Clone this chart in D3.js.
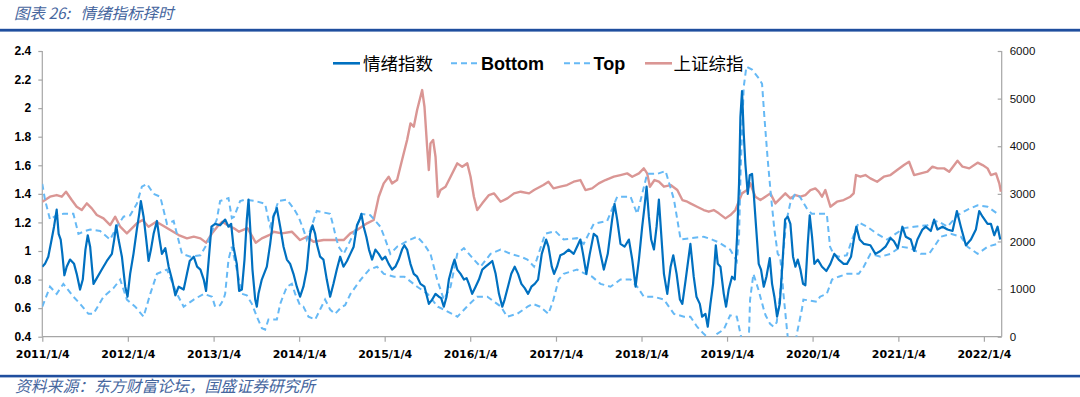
<!DOCTYPE html>
<html><head><meta charset="utf-8">
<script src="https://cdn.jsdelivr.net/npm/d3@7"></script>
<style>
html,body{margin:0;padding:0;background:#fff;}
svg{display:block;}
</style>
</head><body>
<svg id="chart" width="1080" height="397"></svg>
<script>
// ---- data (time as fractional year counted from each year's Jan 4) ----
const yearTicks = [2011,2012,2013,2014,2015,2016,2017,2018,2019,2020,2021,2022];
const leftTicks = [0.4,0.6,0.8,1.0,1.2,1.4,1.6,1.8,2.0,2.2,2.4];
const rightTicks = [0,1000,2000,3000,4000,5000,6000];
const seriesNames = ["情绪指数","Bottom","Top","上证综指"];

const sentiment = [[2011.000,0.89],[2011.031,0.91],[2011.070,0.96],[2011.109,1.08],[2011.137,1.17],[2011.168,1.29],[2011.191,1.12],[2011.215,1.08],[2011.234,0.98],[2011.258,0.83],[2011.285,0.89],[2011.324,0.94],[2011.371,0.91],[2011.402,0.84],[2011.441,0.73],[2011.473,0.80],[2011.504,1.01],[2011.531,1.11],[2011.559,1.03],[2011.598,0.77],[2011.637,0.81],[2011.695,0.87],[2011.754,0.93],[2011.813,0.98],[2011.840,1.08],[2011.863,1.18],[2011.891,1.08],[2011.930,0.96],[2011.969,0.75],[2011.996,0.68],[2012.027,0.84],[2012.066,0.98],[2012.105,1.15],[2012.133,1.26],[2012.152,1.35],[2012.184,1.24],[2012.215,1.08],[2012.242,0.93],[2012.270,1.01],[2012.301,1.12],[2012.340,1.21],[2012.371,1.08],[2012.398,0.98],[2012.438,1.02],[2012.477,0.89],[2012.516,0.80],[2012.555,0.69],[2012.594,0.75],[2012.652,0.73],[2012.691,0.84],[2012.723,0.93],[2012.770,0.96],[2012.809,0.89],[2012.848,0.87],[2012.887,0.80],[2012.914,0.72],[2012.945,0.94],[2012.977,1.17],
[2013.018,1.19],[2013.076,1.18],[2013.135,1.22],[2013.174,1.17],[2013.205,1.19],[2013.232,1.03],[2013.271,0.91],[2013.298,0.72],[2013.330,0.73],[2013.361,0.94],[2013.388,1.22],[2013.408,1.36],[2013.427,1.17],[2013.454,0.87],[2013.486,0.66],[2013.505,0.61],[2013.524,0.70],[2013.563,0.80],[2013.622,0.89],[2013.661,1.05],[2013.700,1.24],[2013.739,1.30],[2013.778,1.17],[2013.817,1.03],[2013.856,0.94],[2013.894,0.91],[2013.933,0.84],[2013.972,0.75],[2014.011,0.68],[2014.050,0.75],[2014.089,0.87],[2014.128,1.12],[2014.156,1.18],[2014.187,1.12],[2014.206,1.05],[2014.245,0.96],[2014.284,0.94],[2014.323,0.80],[2014.362,0.68],[2014.401,0.77],[2014.440,0.87],[2014.479,0.96],[2014.518,0.89],
[2014.559,0.93],[2014.598,0.98],[2014.637,1.03],[2014.676,1.18],[2014.707,1.22],[2014.727,1.26],[2014.754,1.17],[2014.785,1.10],[2014.816,1.01],[2014.852,0.94],[2014.891,1.01],[2014.930,0.98],[2014.969,0.94],[2015.008,0.96],[2015.047,0.91],[2015.086,0.87],[2015.125,0.89],[2015.164,0.94],[2015.203,1.01],[2015.230,1.04],[2015.262,1.01],[2015.301,0.91],[2015.340,0.84],[2015.379,0.82],[2015.418,0.77],[2015.465,0.75],[2015.516,0.63],[2015.555,0.66],[2015.594,0.70],[2015.633,0.68],[2015.660,0.67],[2015.691,0.61],[2015.723,0.68],[2015.750,0.80],[2015.789,0.89],[2015.816,0.94],[2015.848,0.87],[2015.887,0.84],[2015.926,0.80],[2015.957,0.81],[2015.984,0.77],[2016.023,0.70],[2016.063,0.75],[2016.102,0.80],[2016.141,0.87],[2016.180,0.89],[2016.219,0.91],[2016.258,0.93],[2016.297,0.84],[2016.336,0.70],[2016.375,0.61],[2016.402,0.66],[2016.441,0.75],[2016.480,0.84],[2016.520,0.89],[2016.559,0.84],[2016.598,0.77],[2016.637,0.74],[2016.676,0.70],[2016.715,0.75],[2016.754,0.77],[2016.793,0.80],
[2016.836,0.98],[2016.887,1.08],[2016.914,1.03],[2016.953,0.89],[2016.980,0.84],[2017.012,0.89],[2017.051,0.97],[2017.090,0.98],[2017.148,1.01],[2017.207,0.98],[2017.246,1.03],[2017.285,1.08],[2017.316,0.98],[2017.355,0.84],[2017.395,0.98],[2017.441,1.12],[2017.480,1.10],[2017.520,0.98],[2017.559,0.87],[2017.605,0.98],[2017.656,1.22],[2017.684,1.33],[2017.715,1.22],[2017.754,1.05],[2017.801,1.03],[2017.852,1.08],[2017.891,0.94],[2017.930,0.75],[2017.969,0.94],[2018.008,1.17],[2018.035,1.31],[2018.059,1.45],[2018.086,1.24],[2018.113,1.08],[2018.145,1.01],[2018.176,1.17],[2018.203,1.36],[2018.230,1.12],[2018.262,0.84],[2018.301,0.70],[2018.340,0.89],[2018.371,0.97],[2018.410,0.84],[2018.449,0.66],[2018.477,0.63],[2018.516,0.80],
[2018.571,1.05],[2018.610,0.82],[2018.642,0.68],[2018.681,0.63],[2018.708,0.54],[2018.747,0.56],[2018.774,0.47],[2018.805,0.63],[2018.836,0.77],[2018.868,1.04],[2018.891,0.91],[2018.922,0.89],[2018.961,0.70],[2018.988,0.61],[2019.019,0.73],[2019.058,0.82],[2019.090,0.80],[2019.117,1.10],[2019.140,1.47],[2019.156,1.94],[2019.175,2.12],[2019.195,1.82],[2019.214,1.61],[2019.242,1.40],[2019.265,1.53],[2019.292,1.54],[2019.312,1.40],[2019.339,1.17],[2019.370,0.91],[2019.397,0.87],[2019.429,0.75],[2019.460,0.82],[2019.499,0.95],[2019.526,0.77],[2019.553,0.68],[2019.584,0.54],[2019.616,0.63],[2019.647,0.91],[2019.678,1.22],[2019.709,1.24],[2019.740,1.19],[2019.771,0.96],[2019.799,0.89],[2019.826,0.94],[2019.857,0.87],[2019.888,0.77],[2019.915,0.76],[2019.943,1.05],[2019.966,1.25],[2019.993,1.10],[2020.021,0.91],[2020.060,0.94],[2020.110,0.89],[2020.161,0.86],[2020.208,0.91],[2020.254,0.98],[2020.305,0.94],[2020.363,0.91],[2020.402,0.91],[2020.449,0.96],[2020.488,1.10],[2020.511,1.17],[2020.550,1.08],[2020.597,1.05],[2020.675,1.04],
[2020.734,0.98],[2020.793,1.00],[2020.852,1.03],[2020.910,1.09],[2020.949,1.07],[2020.996,1.02],[2021.047,1.17],[2021.086,1.10],[2021.145,1.08],[2021.184,1.00],[2021.223,1.08],[2021.281,1.15],[2021.320,1.17],[2021.379,1.14],[2021.418,1.22],[2021.457,1.15],[2021.516,1.17],[2021.574,1.15],[2021.633,1.14],[2021.684,1.28],[2021.730,1.17],[2021.789,1.04],[2021.848,1.08],[2021.906,1.15],[2021.945,1.28],[2021.984,1.24],[2022.043,1.19],[2022.082,1.19],[2022.121,1.11],[2022.160,1.17],[2022.191,1.08]];

const bottomBand = [[2011.000,0.61],[2011.090,0.75],[2011.168,0.70],[2011.246,0.77],[2011.363,0.68],[2011.441,0.63],[2011.539,0.56],[2011.598,0.56],[2011.715,0.68],[2011.832,0.74],[2011.910,0.80],[2011.988,0.66],[2012.086,0.61],[2012.184,0.54],[2012.262,0.70],[2012.340,0.84],[2012.457,0.87],[2012.574,0.70],[2012.652,0.61],[2012.770,0.66],[2012.887,0.70],[2012.984,0.68],
[2013.018,0.61],[2013.076,0.62],[2013.115,0.66],[2013.135,0.70],[2013.174,0.94],[2013.213,1.03],[2013.271,0.87],[2013.330,0.70],[2013.388,0.69],[2013.447,0.63],[2013.505,0.54],[2013.564,0.46],[2013.602,0.45],[2013.641,0.52],[2013.739,0.52],[2013.778,0.63],[2013.856,0.75],[2013.914,0.77],[2013.953,0.70],[2014.011,0.62],[2014.050,0.61],[2014.109,0.54],[2014.187,0.52],[2014.245,0.59],[2014.303,0.66],[2014.362,0.59],[2014.420,0.56],[2014.498,0.61],[2014.537,0.62],
[2014.600,0.70],[2014.720,0.80],[2014.820,0.87],[2014.910,0.89],[2014.990,0.84],[2015.110,0.82],[2015.230,0.82],[2015.380,0.75],[2015.500,0.70],[2015.620,0.61],[2015.690,0.59],[2015.850,0.54],[2015.960,0.61],[2016.080,0.68],[2016.200,0.68],[2016.360,0.61],[2016.430,0.54],[2016.550,0.56],[2016.670,0.61],
[2016.730,0.63],[2016.816,0.61],[2016.914,0.56],[2016.973,0.66],[2017.031,0.80],[2017.090,0.84],[2017.246,0.87],[2017.344,0.84],[2017.422,0.82],[2017.520,0.77],[2017.637,0.75],[2017.754,0.80],[2017.871,0.80],[2017.949,0.75],[2018.027,0.68],[2018.145,0.68],[2018.262,0.66],[2018.379,0.56],[2018.496,0.54],
[2018.571,0.54],[2018.649,0.47],[2018.727,0.42],[2018.805,0.38],[2018.883,0.42],[2018.961,0.45],[2019.036,0.55],[2019.114,0.54],[2019.164,0.40],[2019.200,0.25],[2019.250,0.30],[2019.269,0.66],[2019.308,0.84],[2019.366,0.73],[2019.425,0.60],[2019.450,0.55],[2019.503,0.49],[2019.542,0.47],[2019.580,0.50],[2019.620,0.70],[2019.640,0.84],
[2019.659,0.70],[2019.700,0.45],[2019.717,0.35],[2019.790,0.30],[2019.815,0.42],[2019.874,0.59],[2019.892,0.66],[2020.049,0.645],[2020.087,0.68],[2020.166,0.70],[2020.227,0.80],[2020.305,0.82],[2020.402,0.84],[2020.461,0.84],[2020.539,0.84],[2020.598,0.89],[2020.676,0.98],[2020.793,0.96],[2020.910,0.98],[2021.027,1.03],[2021.145,1.02],[2021.262,0.98],[2021.359,0.98],[2021.418,1.03],[2021.496,1.10],[2021.613,1.12],[2021.730,1.10],[2021.809,1.03],[2021.926,0.98],[2022.043,1.03],[2022.160,1.05]];

const topBand = [[2011.000,1.47],[2011.031,1.36],[2011.090,1.22],[2011.168,1.25],[2011.246,1.26],[2011.363,1.26],[2011.422,1.12],[2011.500,1.14],[2011.559,1.15],[2011.676,1.14],[2011.793,1.08],[2011.871,1.17],[2011.949,1.24],[2012.027,1.25],[2012.105,1.33],[2012.164,1.45],[2012.223,1.47],[2012.301,1.40],[2012.379,1.38],[2012.457,1.19],[2012.535,1.21],[2012.633,0.98],[2012.730,0.96],[2012.848,0.97],[2012.926,1.05],
[2013.037,1.22],[2013.076,1.35],[2013.174,1.37],[2013.213,1.23],[2013.240,1.24],[2013.310,1.35],[2013.369,1.36],[2013.486,1.35],[2013.602,1.33],[2013.641,1.22],[2013.661,1.17],[2013.700,1.25],[2013.758,1.35],[2013.856,1.36],[2013.933,1.30],[2013.992,1.24],[2014.050,1.15],[2014.089,1.08],[2014.150,1.18],[2014.206,1.28],[2014.362,1.26],[2014.401,1.17],[2014.428,1.10],
[2014.461,1.03],[2014.520,0.98],[2014.637,1.12],[2014.734,1.26],[2014.832,1.25],[2014.949,1.17],[2015.008,1.08],[2015.066,0.98],[2015.145,1.03],[2015.262,1.07],[2015.379,1.10],[2015.457,1.05],[2015.535,0.98],[2015.613,0.80],[2015.691,0.66],[2015.770,0.75],[2015.848,0.98],[2015.926,1.02],[2016.043,0.94],[2016.121,0.89],[2016.238,0.98],[2016.355,1.01],[2016.473,0.98],[2016.590,0.96],[2016.668,0.94],[2016.746,0.89],
[2016.777,0.94],[2016.875,1.12],[2016.992,1.14],[2017.090,1.08],[2017.246,1.09],[2017.324,1.05],[2017.441,1.19],[2017.598,1.21],[2017.715,1.38],[2017.871,1.38],[2017.949,1.26],[2018.066,1.54],[2018.184,1.54],[2018.281,1.56],[2018.379,1.36],[2018.457,1.08],
[2018.571,1.09],[2018.727,1.10],[2018.825,1.08],[2018.903,1.06],[2019.036,1.01],[2019.114,0.93],[2019.140,1.10],[2019.160,1.59],[2019.195,2.15],[2019.226,2.29],[2019.292,2.27],[2019.370,2.21],[2019.409,2.17],[2019.436,1.94],[2019.475,1.64],[2019.514,1.38],[2019.553,1.15],[2019.592,0.98],[2019.620,0.96],[2019.640,0.84],
[2019.659,1.00],[2019.690,1.20],[2019.737,1.33],[2019.795,1.40],[2019.850,1.38],[2019.930,1.30],[2019.990,1.26],[2020.166,1.26],[2020.204,1.03],[2020.243,0.98],[2020.301,0.96],[2020.399,0.97],[2020.461,1.08],[2020.539,1.20],[2020.637,1.17],[2020.754,1.12],[2020.871,1.08],[2020.969,1.12],[2021.066,1.16],[2021.184,1.17],[2021.340,1.18],[2021.457,1.21],[2021.574,1.17],[2021.691,1.25],[2021.809,1.29],[2021.926,1.32],[2022.043,1.31],[2022.160,1.26]];

const sse = [[2011.000,2835],[2011.090,2940],[2011.168,2975],[2011.227,2940],[2011.277,3045],[2011.344,2870],[2011.402,2730],[2011.461,2660],[2011.520,2800],[2011.578,2695],[2011.637,2555],[2011.715,2485],[2011.793,2345],[2011.852,2520],[2011.910,2310],[2011.988,2170],[2012.047,2275],[2012.105,2380],[2012.172,2450],[2012.242,2310],[2012.332,2415],[2012.398,2345],[2012.496,2240],[2012.594,2135],[2012.691,2065],[2012.770,2100],[2012.848,2065],[2012.914,1975],[2012.984,2170],[2013.043,2310],[2013.102,2415],[2013.160,2345],[2013.238,2275],[2013.297,2205],[2013.395,2280],[2013.453,2100],[2013.492,1975],[2013.563,2065],[2013.668,2150],[2013.700,2205],[2013.797,2170],[2013.914,2205],[2014.011,2030],[2014.090,2100],[2014.168,1995],[2014.285,2030],[2014.402,2030],[2014.520,2030],[2014.598,2170],[2014.676,2240],[2014.793,2380],[2014.871,2450],[2014.930,2940],[2014.988,3220],[2015.047,3360],[2015.086,3220],[2015.145,3290],[2015.203,3710],[2015.262,4130],[2015.301,4480],[2015.340,4410],[2015.379,4760],[2015.438,5180],[2015.465,4830],[2015.496,3990],[2015.516,3500],[2015.535,4060],[2015.566,4130],[2015.594,3780],[2015.621,2940],[2015.652,3080],[2015.711,3150],[2015.770,3360],[2015.848,3640],[2015.906,3570],[2015.965,3640],[2016.004,3360],[2016.043,2940],[2016.082,2660],[2016.141,2800],[2016.219,2975],[2016.277,3010],[2016.355,2835],[2016.434,2905],[2016.512,3010],[2016.590,3045],[2016.688,3010],[2016.746,3080],[2016.855,3185],[2016.914,3255],[2016.973,3115],[2017.051,3150],[2017.129,3185],[2017.207,3255],[2017.285,3290],[2017.344,3080],[2017.422,3115],[2017.500,3220],[2017.578,3290],[2017.676,3360],[2017.754,3395],[2017.832,3430],[2017.891,3360],[2017.969,3430],[2018.027,3535],[2018.066,3430],[2018.098,3150],[2018.152,3290],[2018.203,3255],[2018.262,3150],[2018.340,3185],[2018.418,3080],[2018.477,2870],[2018.535,2835],
[2018.571,2800],[2018.649,2730],[2018.727,2660],[2018.786,2625],[2018.844,2660],[2018.903,2590],[2018.981,2485],[2019.039,2555],[2019.097,2660],[2019.136,2835],[2019.175,3010],[2019.234,3080],[2019.273,3220],[2019.292,3115],[2019.331,2940],[2019.390,2870],[2019.448,2940],[2019.506,3010],[2019.565,2800],[2019.623,2905],[2019.681,3010],[2019.740,2905],[2019.799,2975],[2019.857,2940],[2019.915,2975],[2019.974,3080],[2020.032,3115],[2020.071,3045],[2020.110,2940],[2020.149,3080],[2020.208,2730],[2020.285,2835],[2020.363,2870],[2020.441,2940],[2020.480,3010],[2020.507,3395],[2020.558,3360],[2020.617,3395],[2020.675,3325],
[2020.754,3255],[2020.832,3360],[2020.910,3395],[2020.988,3500],[2021.066,3605],[2021.125,3675],[2021.184,3395],[2021.262,3430],[2021.340,3465],[2021.398,3570],[2021.457,3535],[2021.535,3535],[2021.594,3465],[2021.691,3696],[2021.750,3570],[2021.828,3535],[2021.926,3654],[2021.984,3605],[2022.043,3535],[2022.082,3395],[2022.141,3430],[2022.180,3220],[2022.199,3045]];

// ---- helpers ----
const DAY = 864e5;
function toDate(t){ const y = Math.floor(t); return new Date(new Date(y,0,4).getTime() + (t - y) * 365.25 * DAY); }

const svg = d3.select("#chart");
const W = 1080, H = 397;
const plot = {left: 42.3, right: 1001.7, top: 51, bottom: 336.7};

svg.append("rect").attr("width", W).attr("height", H).attr("fill", "#fff");

const x = d3.scaleTime().domain([new Date(2011,0,4), new Date(2022,2,21)]).range([plot.left, plot.right]);
const yL = d3.scaleLinear().domain([0.4, 2.4]).range([plot.bottom, plot.top]);
const yR = d3.scaleLinear().domain([0, 6000]).range([plot.bottom, plot.top]);

// title
const blue = "#1F4E9E";
svg.append("text").attr("x", 14).attr("y", 18.5).style("white-space", "pre")
  .attr("font-family", "'Noto Sans CJK SC', sans-serif").attr("font-style", "italic")
  .attr("font-size", 15.5).attr("fill", "#46669E").text("图表 26:   情绪指标择时");
svg.append("rect").attr("x", 0).attr("y", 28.8).attr("width", W).attr("height", 2.8).attr("fill", blue);
svg.append("rect").attr("x", 0).attr("y", 374.8).attr("width", W).attr("height", 2.6).attr("fill", blue);
svg.append("text").attr("x", 15).attr("y", 392)
  .attr("font-family", "'Noto Sans CJK SC', sans-serif").attr("font-style", "italic")
  .attr("font-size", 15.8).attr("fill", "#46669E").text("资料来源：东方财富论坛，国盛证券研究所");

// axes
const axisColor = "#A6A6A6";
const gxl = svg.append("g").attr("transform", `translate(${plot.left},0)`)
  .call(d3.axisLeft(yL).tickValues(leftTicks).tickSize(4).tickPadding(7)
    .tickFormat(d => String(+d.toFixed(1))));
gxl.selectAll("text").attr("font-family", "'Liberation Sans', Arial, sans-serif")
  .attr("font-weight", "bold").attr("font-size", 12).attr("fill", "#000");

const gxr = svg.append("g").attr("transform", `translate(${plot.right},0)`)
  .call(d3.axisRight(yR).tickValues(rightTicks).tickSize(0).tickPadding(8).tickFormat(d3.format("d")));
gxr.selectAll("text").attr("font-family", "'Liberation Sans', Arial, sans-serif")
  .attr("font-size", 11.5).attr("fill", "#111");
gxr.selectAll(".tick").append("line").attr("x1", -4).attr("x2", 0).attr("stroke", axisColor);

const gxb = svg.append("g").attr("transform", `translate(0,${plot.bottom})`)
  .call(d3.axisBottom(x).tickValues(yearTicks.map(y => new Date(y,0,4))).tickSize(5).tickPadding(9)
    .tickFormat(d => `${d.getFullYear()}/1/4`));
gxb.selectAll("text").attr("font-family", "'DejaVu Sans', Verdana, sans-serif")
  .attr("font-weight", "bold").attr("font-size", 11).attr("fill", "#000");

[gxl, gxr, gxb].forEach(g => {
  g.select(".domain").attr("stroke", axisColor).attr("stroke-width", 1.2);
  g.selectAll(".tick line").attr("stroke", axisColor).attr("stroke-width", 1.2);
});
gxl.select(".domain").attr("d", `M0,${plot.top}V${plot.bottom}`);
gxr.select(".domain").attr("d", `M0,${plot.top}V${plot.bottom}`);
gxb.select(".domain").attr("d", `M${plot.left},0H${plot.right}`);

// clip
svg.append("clipPath").attr("id", "clip").append("rect")
  .attr("x", plot.left).attr("y", plot.top - 8).attr("width", plot.right - plot.left).attr("height", plot.bottom - plot.top + 8);

const g = svg.append("g").attr("clip-path", "url(#clip)");
const lineL = d3.line().x(d => x(toDate(d[0]))).y(d => yL(d[1]));
const lineR = d3.line().x(d => x(toDate(d[0]))).y(d => yR(d[1]));

const cSSE = "#DA9694", cMain = "#0070C0", cBand = "#66B9F5";

g.append("path").datum(sse).attr("d", lineR).attr("fill", "none")
  .attr("stroke", cSSE).attr("stroke-width", 2.4).attr("stroke-linejoin", "round");
g.append("path").datum(bottomBand).attr("d", lineL).attr("fill", "none")
  .attr("stroke", cBand).attr("stroke-width", 2).attr("stroke-dasharray", "6,4");
g.append("path").datum(topBand).attr("d", lineL).attr("fill", "none")
  .attr("stroke", cBand).attr("stroke-width", 2).attr("stroke-dasharray", "6,4");
g.append("path").datum(sentiment).attr("d", lineL).attr("fill", "none")
  .attr("stroke", cMain).attr("stroke-width", 2.2).attr("stroke-linejoin", "round");

// legend
const legY = 63.3, legBase = 69.6;
const legend = [
  {name: seriesNames[0], x0: 333, x1: 360, tx: 363, color: cMain, dash: null, w: 2.6, cjk: true},
  {name: seriesNames[1], x0: 451, x1: 478, tx: 481, color: cBand, dash: "6,4", w: 2, cjk: false},
  {name: seriesNames[2], x0: 564, x1: 592, tx: 593.5, color: cBand, dash: "6,4", w: 2, cjk: false},
  {name: seriesNames[3], x0: 645, x1: 672, tx: 673.5, color: cSSE, dash: null, w: 2.6, cjk: true}
];
const lg = svg.append("g");
legend.forEach(it => {
  lg.append("line").attr("x1", it.x0).attr("x2", it.x1).attr("y1", legY).attr("y2", legY)
    .attr("stroke", it.color).attr("stroke-width", it.w).attr("stroke-dasharray", it.dash);
  lg.append("text").attr("x", it.tx).attr("y", legBase)
    .attr("font-family", it.cjk ? "'Noto Sans CJK SC', sans-serif" : "'Liberation Sans', Arial, sans-serif")
    .attr("font-weight", it.cjk ? 400 : 700)
    .attr("font-size", it.cjk ? 17.5 : 18).attr("fill", "#000").text(it.name);
});
</script>
</body></html>
